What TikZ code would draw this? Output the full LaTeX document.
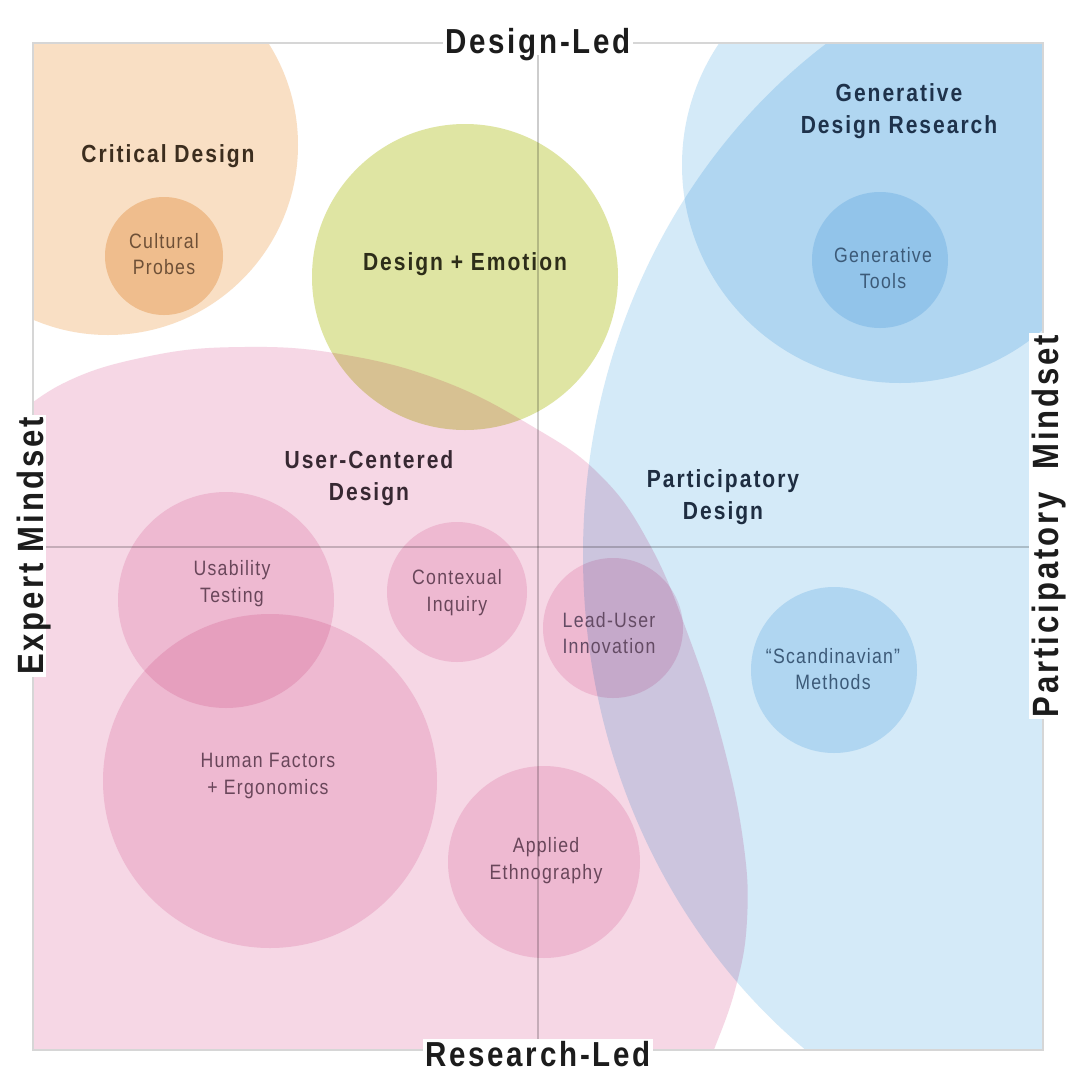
\documentclass[tikz,border=0pt]{standalone}
\usepackage{fontspec}
\setmainfont{Liberation Sans}
\newfontfamily\labfont[FakeStretch=0.85,LetterSpace=8]{Liberation Sans}
\newfontfamily\smlfont[FakeStretch=0.85,LetterSpace=6]{Liberation Sans}
\definecolor{pinkP}{RGB}{246,215,229}
\definecolor{pinkS}{RGB}{247,220,233}
\definecolor{greenG}{RGB}{223,229,163}
\definecolor{orangeO}{RGB}{249,223,196}
\definecolor{orangeC}{RGB}{245,217,184}
\definecolor{blueL}{RGB}{212,234,248}
\definecolor{frameC}{RGB}{214,214,214}
\definecolor{lineC}{RGB}{205,205,205}
\definecolor{axisC}{RGB}{28,28,28}
\definecolor{cdC}{RGB}{60,45,30}
\definecolor{cpC}{RGB}{110,80,55}
\definecolor{deC}{RGB}{45,45,25}
\definecolor{gdC}{RGB}{30,50,75}
\definecolor{gtC}{RGB}{60,90,120}
\definecolor{ucC}{RGB}{55,40,50}
\definecolor{psC}{RGB}{105,70,90}
\definecolor{luC}{RGB}{100,75,100}
\definecolor{pdC}{RGB}{30,45,65}
\begin{document}
\begin{tikzpicture}[x=0.025cm,y=-0.025cm,
  lab/.style={font=\labfont\bfseries\fontsize{17.6}{22.7}\selectfont, align=center, inner sep=0pt},
  sml/.style={font=\smlfont\fontsize{14.8}{19.1}\selectfont, align=center, inner sep=0pt},
  axis/.style={font=\labfont\bfseries\fontsize{24.7}{28}\selectfont, text=axisC, fill=white, inner sep=1.5pt, text depth=0pt},
  vaxis/.style={axis, font=\labfont\bfseries\fontsize{26}{28}\selectfont, anchor=base, rotate=90}]
\useasboundingbox (0,0) rectangle (1073,1074);
\fill[white] (0,0) rectangle (1073,1074);
\begin{scope}[blend mode=multiply]
  \clip (34,44) rectangle (1042,1049);
  % Critical Design
  \fill[orangeO] (108,145) circle[radius=190];
  \fill[orangeC] (164,256) circle[radius=59];
  % User-Centered Design
  \fill[pinkP] plot[smooth, tension=0.7] coordinates {(-10,438) (60,385) (150,356) (244,347) (340,354) (440,380) (530,425) (600,475) (650,545) (690,640) (722,740) (743,840) (747,920) (735,990) (710,1060) (695,1100)} -- (-10,1100) -- cycle;
  % Design + Emotion
  \fill[greenG] (465,277) circle[radius=153];
  % Participatory Design
  \fill[blueL] (1143,555) ellipse[x radius=560, y radius=620];
  % Generative Design Research
  \fill[blueL] (900,165) circle[radius=218];
  \fill[blueL] (880,260) circle[radius=68];
  \fill[blueL] (834,670) circle[radius=83];
  % small pink circles
  \fill[pinkS] (226,600) circle[radius=108];
  \fill[pinkS] (457,592) circle[radius=70];
  \fill[pinkS] (613,628) circle[radius=70];
  \fill[pinkS] (270,781) circle[radius=167];
  \fill[pinkS] (544,862) circle[radius=96];
  % quadrant lines
  \draw[lineC, line width=0.8pt] (538,43) -- (538,1050);
  \draw[lineC, line width=0.8pt] (33,547) -- (1043,547);
\end{scope}
\draw[frameC, line width=1.4pt] (33,43) rectangle (1043,1050);
% labels
\node[lab, text=cdC, anchor=base] (critical) at (168,162) {Critical Design};
\node[sml, text=cpC] (cultural) at (164,254) {Cultural\\Probes};
\node[lab, text=deC, anchor=base] (emotion) at (465,270) {Design + Emotion};
\node[lab, text=gdC] (gdr) at (899,111) {Generative\\Design Research};
\node[sml, text=gtC] (gtools) at (883,268) {Generative\\Tools};
\node[lab, text=ucC] (ucd) at (369,478) {User-Centered\\Design};
\node[lab, text=pdC] (pd) at (723,497) {Participatory\\Design};
\node[sml, text=psC] (usab) at (232,584) {Usability\\Testing};
\node[sml, text=psC] (ctx) at (457,593) {Contexual\\Inquiry};
\node[sml, text=luC] (lead) at (609,633) {Lead-User\\Innovation};
\node[sml, text=gtC] (scand) at (833,669) {“Scandinavian”\\Methods};
\node[sml, text=psC] (hf) at (268,776) {Human Factors\\+ Ergonomics};
\node[sml, text=psC] (ae) at (546,861) {Applied\\Ethnography};
% axis labels
\node[axis, anchor=base] (dled) at (538,53) {Design-Led};
\node[axis, anchor=base] (rled) at (538,1066) {Research-Led};
\node[vaxis] (expert) at (44,546) {Expert Mindset};
\node[vaxis] (partm) at (1058,526) {Participatory\hspace{0.3em} Mindset};
\end{tikzpicture}
\end{document}
